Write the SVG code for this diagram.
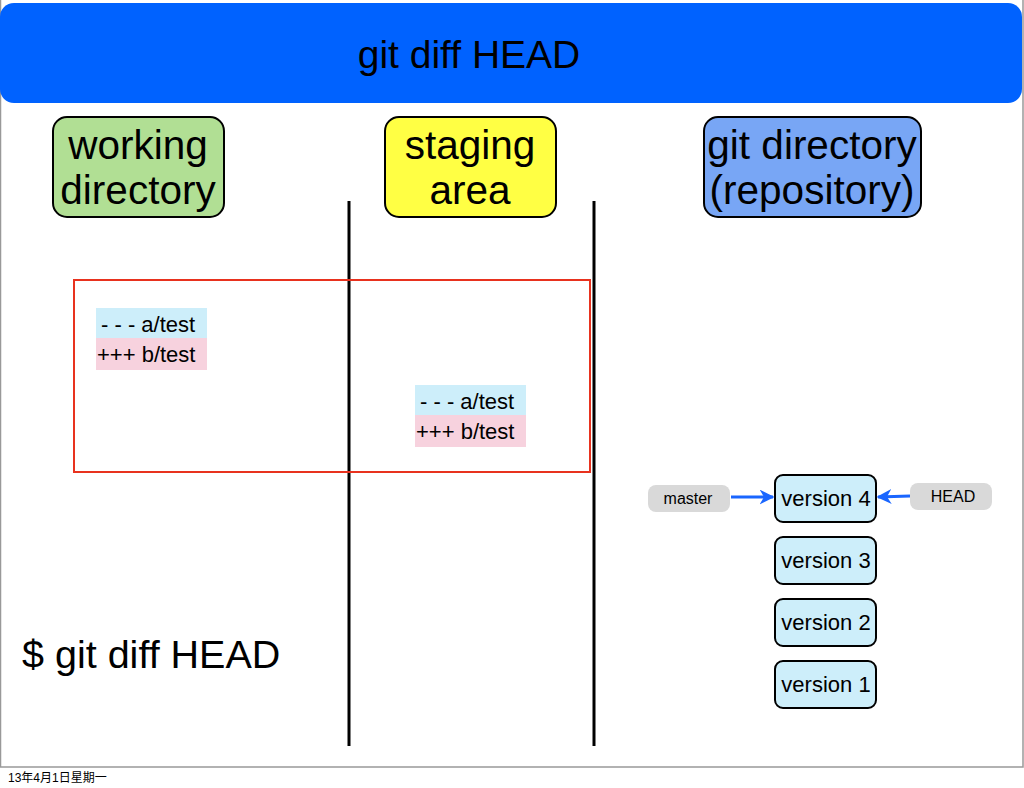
<svg xmlns="http://www.w3.org/2000/svg" width="1024" height="788" viewBox="0 0 1024 788">
<defs>
<style>
text{font-family:"Liberation Sans","Noto Sans CJK SC",sans-serif;fill:#000}
.big{font-size:40.5px;text-anchor:middle}
.diff{font-size:22px}
.ver{font-size:22px;text-anchor:middle}
.pill{font-size:16px;text-anchor:middle}
.vbox{fill:#cdeefa;stroke:#000;stroke-width:2}
.tag{fill:#d9d9d9}
.conn{stroke:#1a66ff;stroke-width:3;fill:none;marker-end:url(#ah)}
</style>
<marker id="ah" viewBox="0 0 10 10" refX="9" refY="5" markerWidth="5" markerHeight="5" orient="auto" markerUnits="strokeWidth">
<path d="M0,0 L10,5 L0,10 L3,5 z" fill="#1a66ff"/>
</marker>
</defs>
<rect x="0" y="0" width="1024" height="788" fill="#fff"/>
<rect x="0.5" y="-1" width="1022.5" height="768" fill="none" stroke="#999" stroke-width="1.5"/>
<g id="banner">
<rect x="0" y="3" width="1022" height="100" rx="14" fill="#0062ff"/>
<text x="469" y="68" style="font-size:39px;text-anchor:middle">git diff HEAD</text>
</g>
<g id="working">
<rect x="53" y="117" width="171" height="100" rx="14" fill="#b1df94" stroke="#000" stroke-width="2"/>
<text class="big" x="138" y="159">working</text>
<text class="big" x="138" y="204">directory</text>
</g>
<g id="staging">
<rect x="385" y="117" width="171" height="100" rx="14" fill="#ffff44" stroke="#000" stroke-width="2"/>
<text class="big" x="470" y="159">staging</text>
<text class="big" x="470" y="204">area</text>
</g>
<g id="gitdir">
<rect x="704" y="117" width="217" height="100" rx="14" fill="#78a6f5" stroke="#000" stroke-width="2"/>
<text class="big" x="812" y="159">git directory</text>
<text class="big" x="812" y="204">(repository)</text>
</g>
<g id="dividers" stroke="#000" stroke-width="3">
<line x1="349" y1="201" x2="349" y2="746"/>
<line x1="594" y1="201" x2="594" y2="746"/>
</g>
<g id="highlight">
<rect x="74" y="280" width="516" height="192" fill="none" stroke="#e8321e" stroke-width="2"/>
</g>
<g id="diff-working">
<rect x="96" y="308" width="111" height="30" fill="#cdeefa"/>
<rect x="96" y="338" width="111" height="32" fill="#f7d2de"/>
<text class="diff" x="101" y="332">- - - a/test</text>
<text class="diff" x="97" y="362">+++ b/test</text>
</g>
<g id="diff-staging">
<rect x="415" y="385" width="111" height="30" fill="#cdeefa"/>
<rect x="415" y="415" width="111" height="32" fill="#f7d2de"/>
<text class="diff" x="420" y="409">- - - a/test</text>
<text class="diff" x="416" y="439">+++ b/test</text>
</g>
<g id="v4"><rect class="vbox" x="775" y="475" width="101" height="47" rx="8"/><text class="ver" x="826" y="506">version 4</text></g>
<g id="v3"><rect class="vbox" x="775" y="537" width="101" height="47" rx="8"/><text class="ver" x="826" y="568">version 3</text></g>
<g id="v2"><rect class="vbox" x="775" y="599" width="101" height="47" rx="8"/><text class="ver" x="826" y="630">version 2</text></g>
<g id="v1"><rect class="vbox" x="775" y="661" width="101" height="47" rx="8"/><text class="ver" x="826" y="692">version 1</text></g>
<g id="master"><rect class="tag" x="648" y="485" width="82" height="27" rx="8"/><text class="pill" x="688" y="504">master</text></g>
<g id="head"><rect class="tag" x="910" y="483" width="82" height="27" rx="8"/><text class="pill" x="953" y="502">HEAD</text></g>
<g id="connectors">
<line class="conn" x1="731" y1="497" x2="773" y2="497"/>
<line class="conn" x1="910" y1="496" x2="878" y2="497"/>
</g>
<g id="command">
<text x="22" y="668" style="font-size:39.5px">$ git diff HEAD</text>
</g>
<text x="8" y="782" style="font-size:12px">13年4月1日星期一</text>
</svg>
